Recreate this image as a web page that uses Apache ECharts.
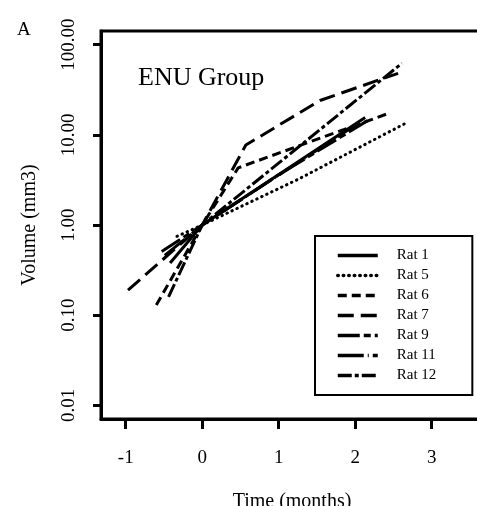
<!DOCTYPE html>
<html>
<head>
<meta charset="utf-8">
<script src="https://cdn.jsdelivr.net/npm/echarts@6/dist/echarts.min.js"></script>
<style>html,body{margin:0;padding:0;background:#fff}#c{width:477px;height:506px}</style>
</head>
<body>
<div id="c"></div>
<script>
// ---- data (time in months, volume in mm3) ----
const ratNames = ['Rat 1', 'Rat 5', 'Rat 6', 'Rat 7', 'Rat 9', 'Rat 11', 'Rat 12'];
const rat1Time = [-0.42, 0, 2.13];
const rat1Vol  = [0.38, 1, 15.5];
const rat5Time = [-0.33, 0, 1.25, 2.65];
const rat5Vol  = [0.75, 1, 3.2, 13.3];
const rat6Time = [-0.6, 0, 0.47, 2.43];
const rat6Vol  = [0.13, 1, 4.3, 17.2];
const rat7Time = [-0.97, 0, 0.57, 1.54, 2.56];
const rat7Vol  = [0.19, 1, 7.7, 24, 48];
const rat9Time = [-0.53, 0, 1.0, 2.2];
const rat9Vol  = [0.51, 1, 3.6, 15];
const rat11Time = [-0.49, 0, 2.1];
const rat11Vol  = [0.46, 1, 14.5];
const rat12Time = [-0.44, 0, 2.61];
const rat12Vol  = [0.16, 1, 62];
const xTicks = [-1, 0, 1, 2, 3];
const yTickVolumes = [0.01, 0.1, 1, 10, 100];

const allTimes = [rat1Time, rat5Time, rat6Time, rat7Time, rat9Time, rat11Time, rat12Time];
const allVols  = [rat1Vol, rat5Vol, rat6Vol, rat7Vol, rat9Vol, rat11Vol, rat12Vol];
const dashes = ['solid', [0.5, 5], [9, 5], [16, 7], [22, 4, 7, 4], [26, 4, 1, 4], [14, 3, 4, 3]];

const serif = 'Liberation Serif';
const chart = echarts.init(document.getElementById('c'), null, {renderer: 'canvas'});

const series = ratNames.map((name, i) => ({
  name: name,
  type: 'line',
  symbol: 'none',
  silent: true,
  data: allTimes[i].map((t, j) => [t, Math.log10(allVols[i][j])]),
  lineStyle: {
    color: '#000', width: 3, type: dashes[i],
    cap: i === 1 ? 'round' : 'butt'
  },
  itemStyle: {color: '#000'},
  z: 3
}));

chart.setOption({
  animation: false,
  backgroundColor: '#fff',
  title: [
    {text: 'A', left: 12, top: 16, textStyle: {fontFamily: serif, fontSize: 19, fontWeight: 'normal', color: '#000'}},
    {text: 'ENU Group', left: 133, top: 60, textStyle: {fontFamily: serif, fontSize: 26, fontWeight: 'normal', color: '#000'}}
  ],
  grid: {
    left: 101, top: 31, right: -6, bottom: 87,
    outerBoundsMode: 'none',
    containLabel: false,
    show: true, borderColor: '#000', borderWidth: 3, backgroundColor: 'transparent'
  },
  legend: {
    orient: 'vertical',
    left: 315, top: 236,
    data: ratNames,
    itemWidth: 40, itemHeight: 14, itemGap: 5,
    padding: [12, 36, 12, 21],
    borderColor: '#000', borderWidth: 2,
    backgroundColor: '#fff',
    textStyle: {fontFamily: serif, fontSize: 15, color: '#000', padding: [0, 0, 0, 14], lineHeight: 14},
    lineStyle: {width: 3.5},
    itemStyle: {opacity: 0},
    selectedMode: false
  },
  xAxis: {
    type: 'value', min: -1.323, max: 3.67,
    name: 'Time (months)', nameLocation: 'middle', nameGap: 73,
    nameTextStyle: {fontFamily: serif, fontSize: 20, color: '#000'},
    axisLine: {show: true, onZero: false, lineStyle: {color: '#000', width: 3}},
    axisTick: {show: true, length: 10, lineStyle: {color: '#000', width: 3}, customValues: xTicks},
    axisLabel: {customValues: xTicks, margin: 30, fontFamily: serif, fontSize: 19, color: '#000'},
    splitLine: {show: false}
  },
  yAxis: {
    type: 'value', min: -2.15, max: 2.15,
    name: 'Volume (mm3)', nameLocation: 'middle', nameGap: 61,
    nameTextStyle: {fontFamily: serif, fontSize: 20, color: '#000'},
    axisLine: {show: true, onZero: false, lineStyle: {color: '#000', width: 3}},
    axisTick: {show: true, length: 8, lineStyle: {color: '#000', width: 3}, customValues: yTickVolumes.map(v => Math.log10(v))},
    axisLabel: {
      customValues: yTickVolumes.map(v => Math.log10(v)),
      rotate: 90, margin: 22, fontFamily: serif, fontSize: 19, color: '#000',
      formatter: v => Math.pow(10, v).toFixed(2)
    },
    splitLine: {show: false}
  },
  series: series
});
</script>
</body>
</html>
